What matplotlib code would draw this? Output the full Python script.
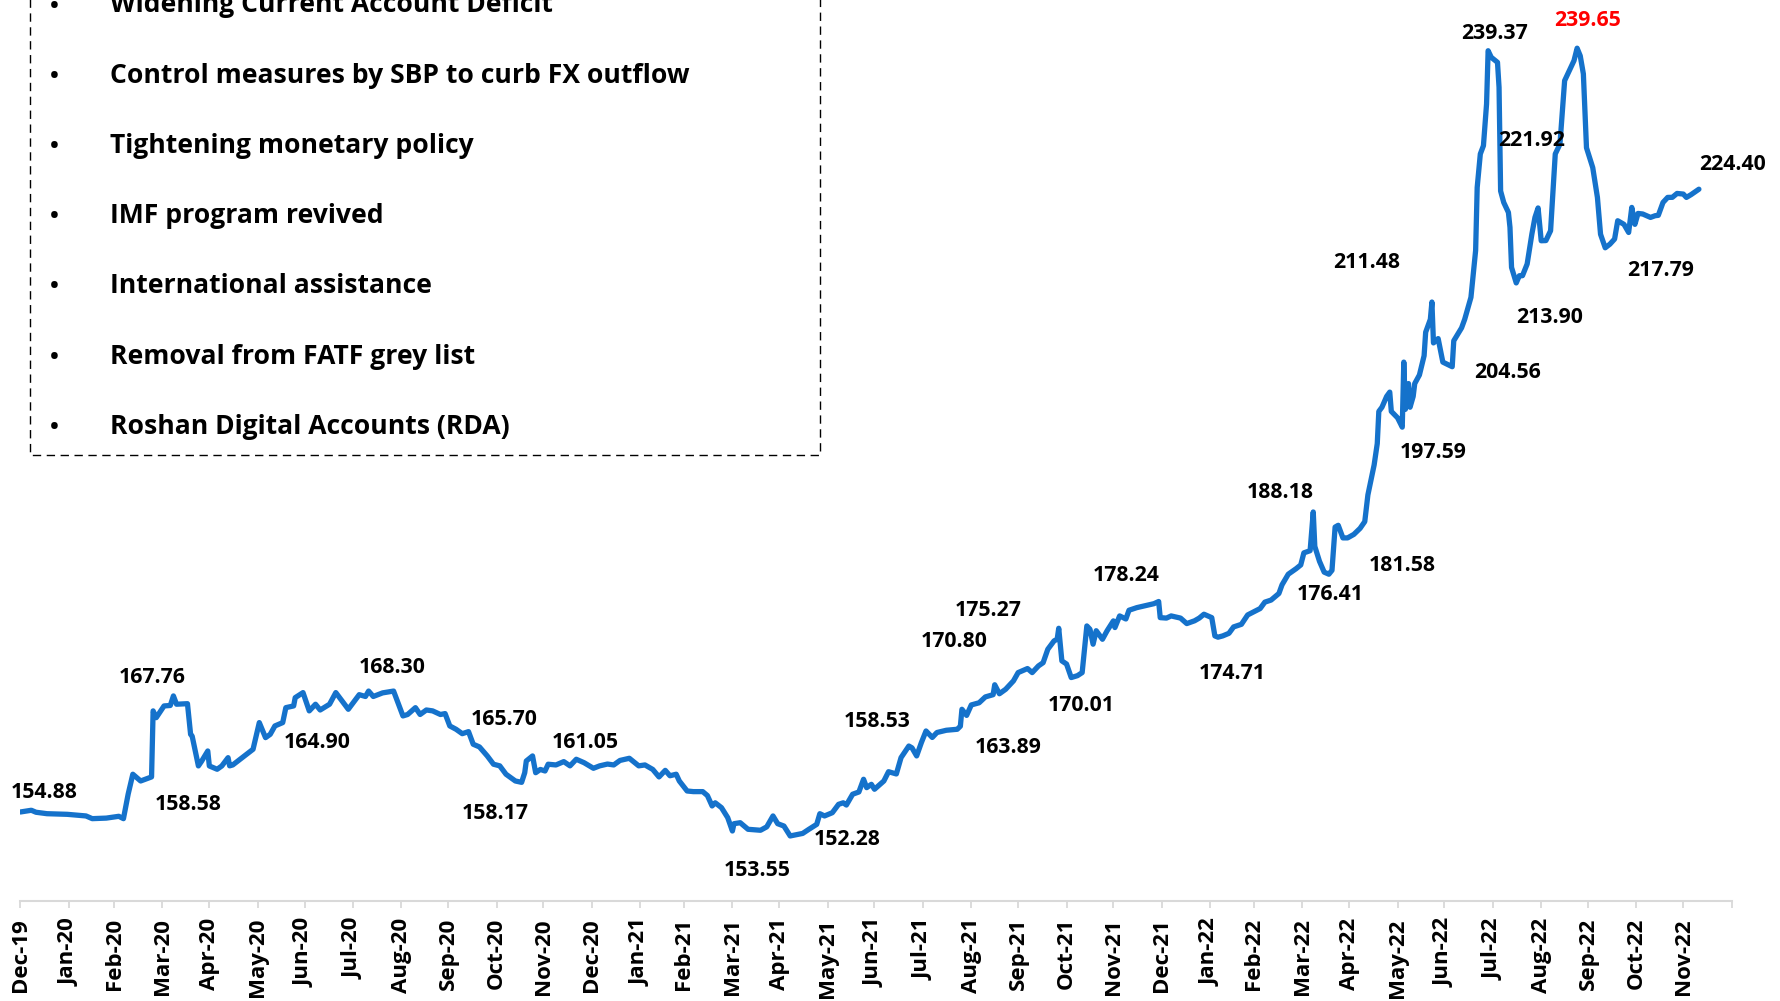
import matplotlib
matplotlib.use("Agg")
import matplotlib.pyplot as plt
import pandas as pd
from matplotlib.lines import Line2D

# ---------------- data ----------------
start_date = "2019-12-31"
day_offset = [
    0, 7, 10, 17, 30, 42, 46, 55, 63, 66, 69, 72, 77, 84, 85, 87, 92, 96, 98, 100,
    107, 109, 110, 114, 116, 120, 121, 126, 129, 133, 134, 136, 149, 153, 157, 160,
    163, 168, 170, 175, 176, 179, 181, 185, 189, 192, 198, 202, 210, 217, 221, 223,
    226, 232, 239, 245, 248, 253, 256, 260, 264, 269, 272, 275, 279, 283, 287, 290,
    294, 299, 303, 307, 311, 317, 321, 323, 324, 328, 330, 333, 336, 338, 343, 348,
    352, 356, 361, 367, 371, 376, 380, 384, 390, 396, 400, 405, 409, 413, 416, 420,
    422, 427, 431, 437, 440, 443, 445, 449, 453, 456, 457, 461, 466, 474, 478, 482,
    485, 489, 493, 501, 505, 510, 512, 515, 520, 524, 527, 529, 533, 537, 540, 542,
    545, 547, 553, 556, 561, 564, 569, 571, 574, 577, 580, 584, 587, 593, 600, 602,
    603, 606, 609, 614, 618, 623, 624, 627, 631, 636, 639, 645, 648, 652, 655, 658,
    662, 664, 665, 667, 670, 673, 677, 680, 683, 685, 687, 689, 693, 696, 700, 701,
    704, 708, 710, 715, 726, 729, 730, 734, 737, 743, 747, 752, 755, 758, 763, 765,
    767, 770, 774, 777, 782, 786, 791, 794, 797, 801, 806, 808, 812, 817, 820, 822,
    826, 828, 829, 832, 835, 838, 840, 842, 844, 847, 850, 854, 858, 861, 863, 867,
    869, 870, 872, 875, 877, 878, 882, 885, 886, 887, 889, 890, 892, 893, 896, 899,
    900, 903, 904, 905, 908, 911, 914, 917, 918, 923, 925, 929, 931, 932, 933, 935,
    937, 939, 940, 942, 946, 947, 948, 950, 953, 954, 955, 958, 960, 962, 965, 968,
    970, 972, 974, 977, 980, 983, 986, 989, 992, 995, 997, 999, 1001, 1003, 1005, 1007,
    1010, 1012, 1015, 1018, 1021, 1023, 1027, 1030, 1032, 1034, 1036, 1039, 1044, 1047,
    1049, 1052, 1055, 1058, 1061, 1065, 1067, 1070, 1075,
]
pkr_per_usd = [
    154.88, 155.07, 154.85, 154.69, 154.62, 154.44, 154.14, 154.20, 154.40, 154.14,
    156.85, 159.07, 158.32, 158.77, 166.10, 165.35, 166.65, 166.70, 167.76, 166.84,
    166.90, 163.50, 163.30, 159.99, 160.50, 161.65, 159.99, 159.62, 159.99, 160.91,
    160.00, 160.10, 161.84, 164.80, 163.13, 163.50, 164.43, 164.80, 166.46, 166.65,
    167.57, 167.90, 168.13, 166.10, 166.84, 166.20, 166.84, 168.13, 166.28, 167.90,
    167.70, 168.30, 167.70, 168.10, 168.30, 165.54, 165.70, 166.46, 165.70, 166.20,
    166.10, 165.70, 165.80, 164.43, 164.06, 163.57, 163.80, 162.40, 162.10, 161.10,
    160.18, 160.00, 159.07, 158.32, 158.17, 159.24, 160.54, 161.10, 159.24, 159.60,
    159.43, 160.18, 160.10, 160.47, 160.00, 160.73, 160.35, 159.73, 160.00, 160.20,
    160.10, 160.60, 160.84, 160.00, 160.10, 159.60, 158.77, 159.50, 158.90, 159.07,
    158.32, 157.21, 157.14, 157.14, 156.70, 155.55, 155.90, 155.36, 154.25, 152.77,
    153.58, 153.69, 152.96, 152.85, 153.23, 154.44, 153.58, 153.32, 152.22, 152.50,
    152.96, 153.51, 154.69, 154.44, 154.80, 155.73, 155.90, 155.65, 156.85, 157.10,
    158.51, 157.58, 157.95, 157.40, 158.32, 159.35, 159.10, 160.91, 162.20, 162.00,
    161.10, 162.57, 163.87, 163.15, 163.70, 163.95, 164.06, 164.40, 166.28, 165.60,
    166.76, 167.00, 167.65, 167.90, 169.00, 168.00, 168.50, 169.43, 170.35, 170.80,
    170.35, 171.09, 171.45, 172.94, 173.87, 174.05, 175.27, 171.65, 171.30, 169.80,
    170.01, 170.35, 175.53, 175.16, 173.50, 175.00, 174.05, 175.00, 176.09, 175.35,
    176.64, 176.30, 177.27, 177.56, 178.00, 178.24, 176.45, 176.40, 176.64, 176.40,
    175.79, 176.10, 176.40, 176.83, 176.45, 174.42, 174.28, 174.42, 174.71, 175.42,
    175.71, 176.75, 177.20, 177.46, 178.17, 178.40, 179.13, 180.09, 181.27, 181.88,
    182.30, 183.64, 183.88, 188.18, 184.36, 182.70, 181.50, 181.27, 181.70, 186.50,
    186.70, 185.30, 185.30, 185.69, 186.36, 187.11, 190.07, 193.40, 195.77, 199.34,
    199.80, 201.00, 201.48, 199.34, 198.63, 197.59, 204.81, 199.57, 202.43, 199.80,
    201.00, 202.43, 203.38, 205.52, 208.13, 209.56, 211.48, 206.94, 207.42, 204.81,
    204.56, 204.30, 207.18, 208.61, 209.56, 212.00, 215.50, 217.20, 224.20, 227.91,
    228.83, 233.46, 239.37, 238.64, 238.08, 235.30, 223.80, 222.53, 221.42, 219.76,
    215.32, 213.60, 214.40, 214.40, 215.70, 219.00, 220.87, 221.92, 218.28, 218.30,
    219.39, 227.91, 229.00, 236.05, 237.16, 238.27, 239.65, 238.80, 236.80, 228.60,
    227.50, 226.40, 223.09, 219.00, 217.50, 217.90, 218.47, 220.50, 220.10, 219.20,
    221.98, 220.10, 221.31, 221.25, 220.87, 221.06, 221.10, 222.53, 223.09, 223.10,
    223.53, 223.46, 223.09, 223.40, 224.00,
]

month_labels = [
    "Dec-19", "Jan-20", "Feb-20", "Mar-20", "Apr-20", "May-20", "Jun-20", "Jul-20",
    "Aug-20", "Sep-20", "Oct-20", "Nov-20", "Dec-20", "Jan-21", "Feb-21", "Mar-21",
    "Apr-21", "May-21", "Jun-21", "Jul-21", "Aug-21", "Sep-21", "Oct-21", "Nov-21",
    "Dec-21", "Jan-22", "Feb-22", "Mar-22", "Apr-22", "May-22", "Jun-22", "Jul-22",
    "Aug-22", "Sep-22", "Oct-22", "Nov-22", "",
]

# annotated values (text) and where they sit (day offset, level)
note_texts = [
    "154.88", "167.76", "158.58", "164.90", "168.30", "165.70", "161.05", "158.17",
    "153.55", "152.28", "158.53", "170.80", "175.27", "163.89", "170.01", "178.24",
    "174.71", "188.18", "176.41", "181.58", "197.59", "211.48", "204.56", "239.37",
    "239.65", "221.92", "213.90", "217.79", "224.40",
]
note_days = [
    15.1, 84.7, 107.5, 189.8, 237.8, 309.9, 361.6, 304.0,
    471.6, 529.2, 548.8, 597.9, 619.9, 632.3, 679.7, 707.9,
    775.8, 807.1, 838.7, 885.0, 904.9, 862.2, 952.4, 943.8,
    1003.4, 967.9, 979.6, 1050.3, 1096.3,
]
note_levels = [
    157.29, 170.06, 155.99, 162.87, 171.20, 165.43, 162.87, 154.99,
    148.70, 152.10, 165.24, 174.06, 177.50, 162.29, 167.02, 181.38,
    170.57, 190.63, 179.27, 182.55, 195.06, 216.13, 203.96, 241.52,
    243.01, 229.64, 210.07, 215.23, 227.05,
]
highlight_note = "239.65"

drivers = [
    "Widening Current Account Deficit",
    "Control measures by SBP to curb FX outflow",
    "Tightening monetary policy",
    "IMF program revived",
    "International assistance",
    "Removal from FATF grey list",
    "Roshan Digital Accounts (RDA)",
]

# ---------------- figure ----------------
W, H = 1781, 1001
FONT = ["Open Sans", "DejaVu Sans"]
fig = plt.figure(figsize=(W / 100, H / 100), dpi=100)
fig.patch.set_facecolor("white")

ax_left, ax_right, ax_bottom = 20.4, 1731.7, 901.0
ax = fig.add_axes([ax_left / W, 1 - ax_bottom / H, (ax_right - ax_left) / W, ax_bottom / H])
ax.set_facecolor("none")

t0 = pd.Timestamp(start_date)
dates = t0 + pd.to_timedelta(day_offset, unit="D")
ax.plot(dates, pkr_per_usd, color="#1572CB", lw=3.8, solid_joinstyle="round",
        solid_capstyle="round", zorder=3)

ax.set_xlim(pd.Timestamp("2019-12-31"), pd.Timestamp("2022-12-31"))
ax.set_ylim(145, 245)

tick_dates = pd.date_range("2019-12-31", "2022-12-31", freq="ME")
ax.set_xticks(tick_dates)
ax.set_xticklabels(month_labels, rotation=90, fontsize=16, fontweight="bold",
                   family=FONT, va="top", ha="center")
ax.tick_params(axis="x", direction="out", length=5.3, width=1.3, color="#D9D9D9",
               pad=7, labelcolor="black")
ax.set_yticks([])
for s in ["left", "right", "top"]:
    ax.spines[s].set_visible(False)
ax.spines["bottom"].set_color("#D9D9D9")
ax.spines["bottom"].set_linewidth(1.5)

for txt, d, lv in zip(note_texts, note_days, note_levels):
    ax.text(t0 + pd.Timedelta(days=d), lv, txt, ha="center", va="center_baseline",
            fontsize=15.3, fontweight="bold", family=FONT,
            color="#FF0000" if txt == highlight_note else "black",
            clip_on=False, zorder=4)

# ---------------- drivers box ----------------
def fx(px):
    return px / W

def fy(py):
    return 1 - py / H

box_l, box_r, box_b, box_t = 29.6, 820.0, 455.0, -10.0
fig.add_artist(Line2D([fx(box_l), fx(box_l), fx(box_r), fx(box_r)],
                      [fy(box_t), fy(box_b), fy(box_b), fy(box_t)],
                      transform=fig.transFigure, color="black", lw=1.0,
                      linestyle=(0, (6, 4))))

base0, step = 12.5, 70.2
for i, item in enumerate(drivers):
    yb = base0 + i * step
    fig.text(fx(54.6), fy(yb), "\u2022", ha="center", va="baseline",
             fontsize=17, fontweight="bold", family=FONT)
    fig.text(fx(109.7), fy(yb), item, ha="left", va="baseline",
             fontsize=19.1, fontweight="bold", family=FONT)

fig.savefig("out.png", dpi=100, facecolor="white")
